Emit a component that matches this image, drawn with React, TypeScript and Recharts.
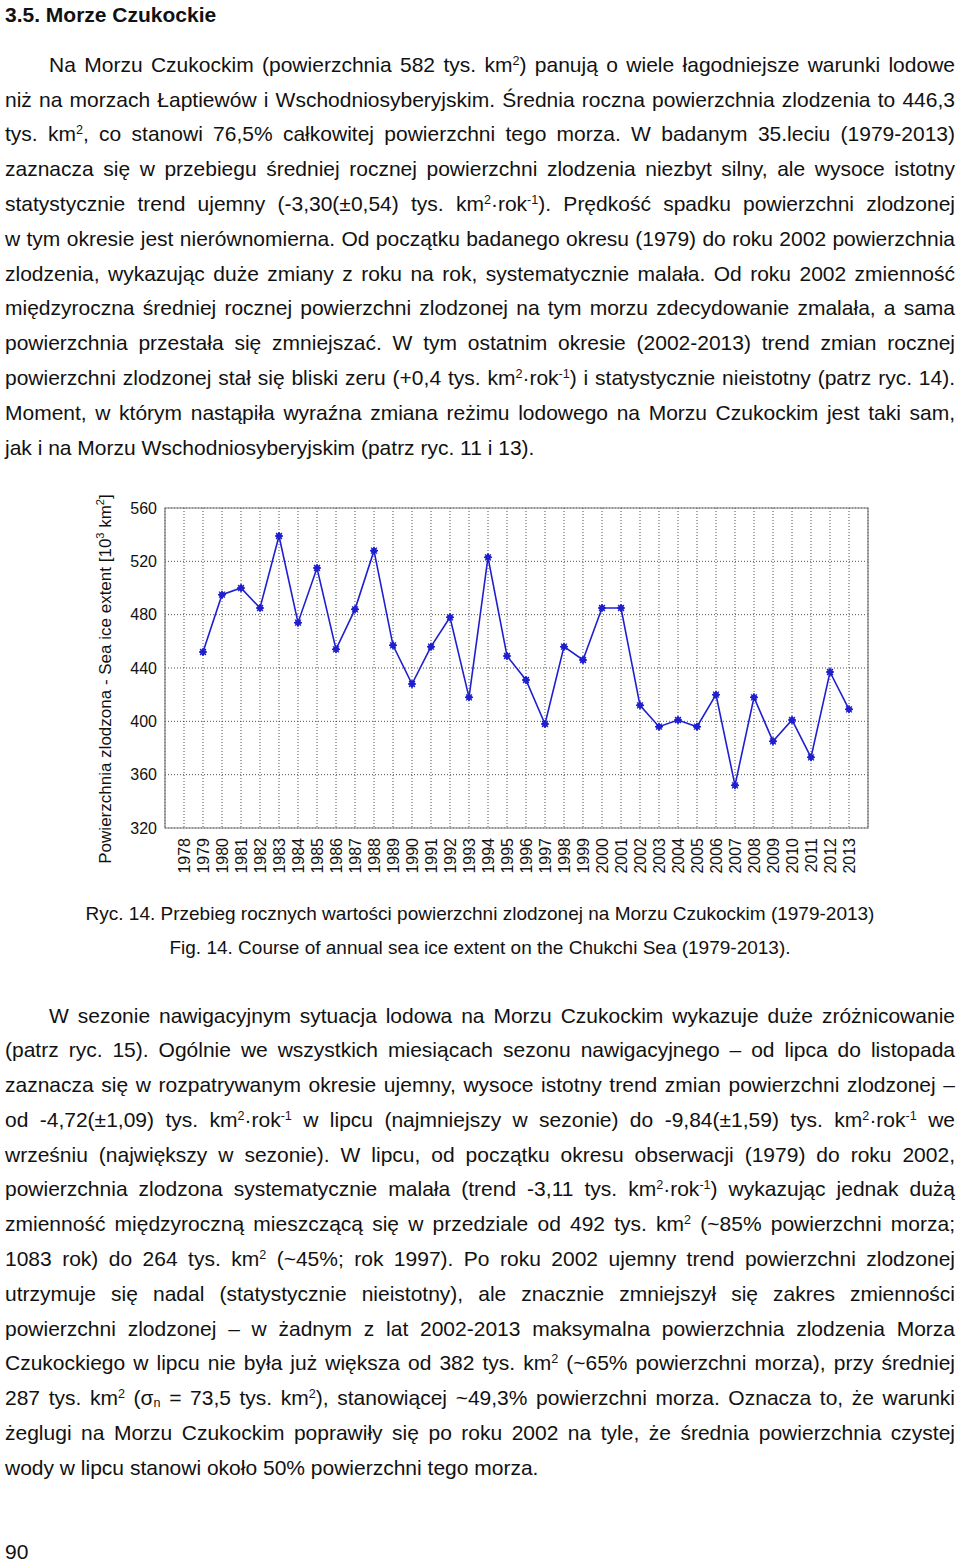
import React from "react";
import {
  LineChart,
  Line,
  XAxis,
  YAxis,
  CartesianGrid,
  ReferenceArea,
} from "recharts";

const YEARS = [
  1979, 1980, 1981, 1982, 1983, 1984, 1985, 1986, 1987, 1988, 1989, 1990,
  1991, 1992, 1993, 1994, 1995, 1996, 1997, 1998, 1999, 2000, 2001, 2002,
  2003, 2004, 2005, 2006, 2007, 2008, 2009, 2010, 2011, 2012, 2013,
];

const ICE_EXTENT = [
  452, 495, 500, 485, 539, 474, 515, 454, 484, 528, 457, 428, 456, 478, 418,
  523, 449, 431, 398, 456, 446, 485, 485, 412, 396, 401, 396, 420, 352, 418,
  385, 401, 373, 437, 409,
];

const X_TICKS = [
  1978, 1979, 1980, 1981, 1982, 1983, 1984, 1985, 1986, 1987, 1988, 1989,
  1990, 1991, 1992, 1993, 1994, 1995, 1996, 1997, 1998, 1999, 2000, 2001,
  2002, 2003, 2004, 2005, 2006, 2007, 2008, 2009, 2010, 2011, 2012, 2013,
];

const Y_TICKS = [320, 360, 400, 440, 480, 520, 560];

const HEADING = "3.5. Morze Czukockie";

// ^{..} = superscript, _{..} = subscript
const PARA_1 = [
  "Na Morzu Czukockim (powierzchnia 582 tys. km^{2}) panują o wiele łagodniejsze warunki lodowe",
  "niż na morzach Łaptiewów i Wschodniosyberyjskim. Średnia roczna powierzchnia zlodzenia to 446,3",
  "tys. km^{2}, co stanowi 76,5% całkowitej powierzchni tego morza. W badanym 35.leciu (1979-2013)",
  "zaznacza się w przebiegu średniej rocznej powierzchni zlodzenia niezbyt silny, ale wysoce istotny",
  "statystycznie trend ujemny (-3,30(±0,54) tys. km^{2}·rok^{-1}). Prędkość spadku powierzchni zlodzonej",
  "w tym okresie jest nierównomierna. Od początku badanego okresu (1979) do roku 2002 powierzchnia",
  "zlodzenia, wykazując duże zmiany z roku na rok, systematycznie malała. Od roku 2002 zmienność",
  "międzyroczna średniej rocznej powierzchni zlodzonej na tym morzu zdecydowanie zmalała, a sama",
  "powierzchnia przestała się zmniejszać. W tym ostatnim okresie (2002-2013) trend zmian rocznej",
  "powierzchni zlodzonej stał się bliski zeru (+0,4 tys. km^{2}·rok^{-1}) i statystycznie nieistotny (patrz ryc. 14).",
  "Moment, w którym nastąpiła wyraźna zmiana reżimu lodowego na Morzu Czukockim jest taki sam,",
  "jak i na Morzu Wschodniosyberyjskim (patrz ryc. 11 i 13).",
];

const CAPTION_PL =
  "Ryc. 14. Przebieg rocznych wartości powierzchni zlodzonej na Morzu Czukockim (1979-2013)";
const CAPTION_EN =
  "Fig. 14. Course of annual sea ice extent on the Chukchi Sea (1979-2013).";

const PARA_2 = [
  "W sezonie nawigacyjnym sytuacja lodowa na Morzu Czukockim wykazuje duże zróżnicowanie",
  "(patrz ryc. 15). Ogólnie we wszystkich miesiącach sezonu nawigacyjnego – od lipca do listopada",
  "zaznacza się w rozpatrywanym okresie ujemny, wysoce istotny trend zmian powierzchni zlodzonej –",
  "od -4,72(±1,09) tys. km^{2}·rok^{-1} w lipcu (najmniejszy w sezonie) do -9,84(±1,59) tys. km^{2}·rok^{-1} we",
  "wrześniu (największy w sezonie). W lipcu, od początku okresu obserwacji (1979) do roku 2002,",
  "powierzchnia zlodzona systematycznie malała (trend -3,11 tys. km^{2}·rok^{-1}) wykazując jednak dużą",
  "zmienność międzyroczną mieszczącą się w przedziale od 492 tys. km^{2} (~85% powierzchni morza;",
  "1083 rok) do 264 tys. km^{2} (~45%; rok 1997). Po roku 2002 ujemny trend powierzchni zlodzonej",
  "utrzymuje się nadal (statystycznie nieistotny), ale znacznie zmniejszył się zakres zmienności",
  "powierzchni zlodzonej – w żadnym z lat 2002-2013 maksymalna powierzchnia zlodzenia Morza",
  "Czukockiego w lipcu nie była już większa od 382 tys. km^{2} (~65% powierzchni morza), przy średniej",
  "287 tys. km^{2} (σ_{n} = 73,5 tys. km^{2}), stanowiącej ~49,3% powierzchni morza. Oznacza to, że warunki",
  "żeglugi na Morzu Czukockim poprawiły się po roku 2002 na tyle, że średnia powierzchnia czystej",
  "wody w lipcu stanowi około 50% powierzchni tego morza.",
];

const PAGE_NO = "90";

const FONT = '"Liberation Sans", Arial, Helvetica, sans-serif';
const BLUE = "#1f1fd0";

function rich(s: string) {
  const parts = s.split(/(\^\{[^}]*\}|_\{[^}]*\})/);
  return parts.map((p, i) => {
    if (p.startsWith("^{"))
      return (
        <sup key={i} style={{ fontSize: "0.6em", lineHeight: 0, verticalAlign: "0.55em" }}>
          {p.slice(2, -1)}
        </sup>
      );
    if (p.startsWith("_{"))
      return (
        <sub key={i} style={{ fontSize: "0.6em", lineHeight: 0, verticalAlign: "-0.15em" }}>
          {p.slice(2, -1)}
        </sub>
      );
    return <React.Fragment key={i}>{p}</React.Fragment>;
  });
}

function Paragraph({ lines, top }: { lines: string[]; top: number }) {
  return (
    <div style={{ position: "absolute", left: 5, top, width: 950 }}>
      {lines.map((l, i) => {
        const last = i === lines.length - 1;
        return (
          <div
            key={i}
            style={{
              textAlign: last ? "left" : "justify",
              textAlignLast: last ? "left" : "justify",
              paddingLeft: i === 0 ? 44 : 0,
              height: 34.8,
            }}
          >
            {rich(l)}
          </div>
        );
      })}
    </div>
  );
}

function StarDot(props: any) {
  const { cx, cy } = props;
  if (cx == null || cy == null) return null;
  const r = 4;
  return (
    <g>
      <path
        d={`M${cx},${cy - r} L${cx + r},${cy} L${cx},${cy + r} L${cx - r},${cy} Z`}
        fill={BLUE}
      />
      <path
        d={`M${cx - r},${cy} H${cx + r} M${cx},${cy - r} V${cy + r} M${cx - 3},${cy - 3} L${cx + 3},${cy + 3} M${cx - 3},${cy + 3} L${cx + 3},${cy - 3}`}
        stroke={BLUE}
        strokeWidth={1.2}
      />
    </g>
  );
}

function YearTick(props: any) {
  const { x, y, payload } = props;
  return (
    <text
      x={x}
      y={y}
      transform={`rotate(-90, ${x}, ${y})`}
      textAnchor="end"
      dy="0.36em"
      fontSize={16}
      fontFamily={FONT}
      fill="#111"
    >
      {payload.value}
    </text>
  );
}

function YLabel(props: any) {
  const { viewBox } = props;
  const x = viewBox.x + 31;
  const y = viewBox.y + viewBox.height / 2 + 11;
  return (
    <text
      x={x}
      y={y}
      transform={`rotate(-90, ${x}, ${y})`}
      textAnchor="middle"
      fontSize={17}
      fontFamily={FONT}
      fill="#111"
    >
      Powierzchnia zlodzona - Sea ice extent [10
      <tspan dy={-7} fontSize={11}>3</tspan>
      <tspan dy={7}> km</tspan>
      <tspan dy={-7} fontSize={11}>2</tspan>
      <tspan dy={7}>]</tspan>
    </text>
  );
}

function IceChart() {
  const data = YEARS.map((year, i) => ({ year, extent: ICE_EXTENT[i] }));
  return (
    <LineChart
      width={800}
      height={400}
      data={data}
      margin={{ top: 18, right: 12, left: 0, bottom: 0 }}
    >
      <CartesianGrid
        stroke="#222"
        strokeDasharray="1 2"
        strokeWidth={0.8}
      />
      <XAxis
        dataKey="year"
        type="number"
        domain={[1977, 2014]}
        ticks={X_TICKS}
        interval={0}
        height={62}
        axisLine={false}
        tickLine={false}
        tickSize={0}
        tickMargin={10}
        tick={<YearTick />}
      />
      <YAxis
        type="number"
        domain={[320, 560]}
        ticks={Y_TICKS}
        width={85}
        axisLine={false}
        tickLine={false}
        tickSize={0}
        tickMargin={8}
        tick={{ fontSize: 16, fontFamily: FONT, fill: "#111" }}
        label={{ content: <YLabel /> }}
      />
      <ReferenceArea
        x1={1977}
        x2={2014}
        y1={320}
        y2={560}
        fill="none"
        stroke="#7a7a7a"
        strokeWidth={1.2}
        fillOpacity={0}
      />
      <Line
        dataKey="extent"
        stroke={BLUE}
        strokeWidth={1.6}
        dot={<StarDot />}
        activeDot={false}
        isAnimationActive={false}
      />
    </LineChart>
  );
}

export default function App() {
  return (
    <div
      style={{
        position: "absolute",
        left: 0,
        top: 0,
        width: 960,
        height: 1564,
        background: "#fff",
        fontFamily: FONT,
        fontSize: 21,
        lineHeight: "34.8px",
        color: "#111",
      }}
    >
      <div style={{ position: "absolute", left: 5, top: -2, fontWeight: "bold" }}>
        {HEADING}
      </div>
      <Paragraph lines={PARA_1} top={47.8} />
      <div style={{ position: "absolute", left: 80, top: 490 }}>
        <IceChart />
      </div>
      <div
        style={{
          position: "absolute",
          left: 0,
          top: 897,
          width: 960,
          textAlign: "center",
          fontSize: 19,
          lineHeight: "34px",
        }}
      >
        <div>{CAPTION_PL}</div>
        <div>{CAPTION_EN}</div>
      </div>
      <Paragraph lines={PARA_2} top={998.5} />
      <div style={{ position: "absolute", left: 5, top: 1535 }}>{PAGE_NO}</div>
    </div>
  );
}
